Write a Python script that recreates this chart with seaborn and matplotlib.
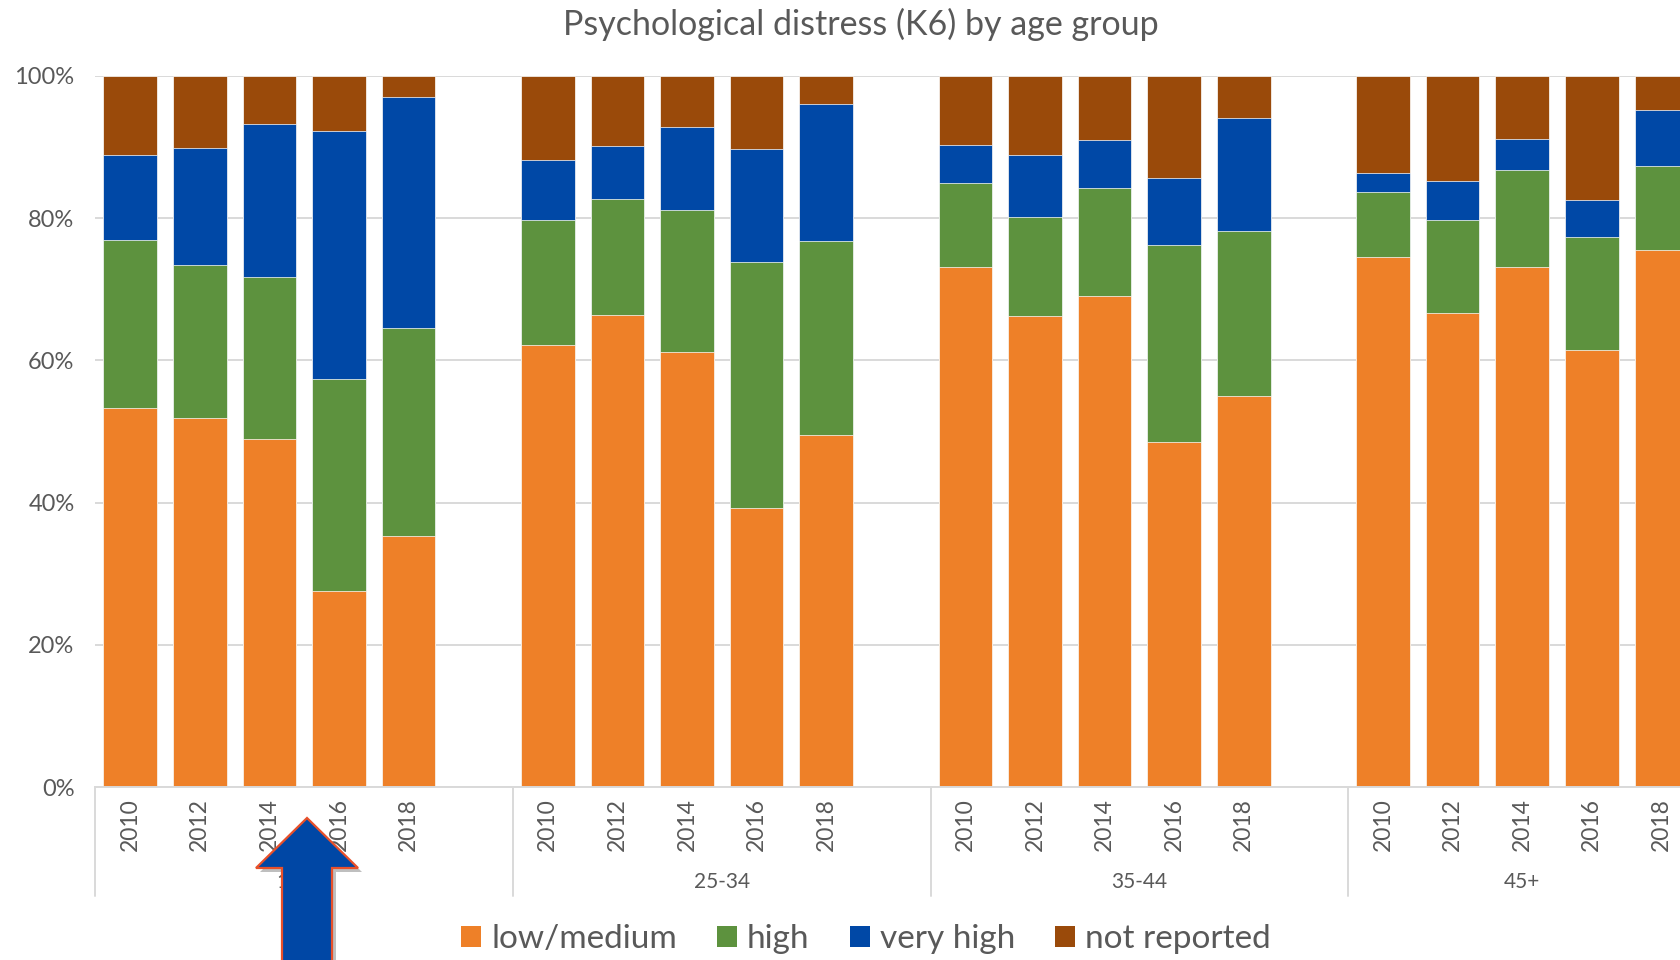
import numpy as np
import matplotlib
matplotlib.use("Agg")
import matplotlib.pyplot as plt
import matplotlib.transforms as mtransforms
from matplotlib.patches import Patch, Polygon
from matplotlib.lines import Line2D
import seaborn as sns

# ---- data (percent of respondents; age group major, survey year minor) ----
age_groups = ["18-24", "25-34", "35-44", "45+"]
years = ["2010", "2012", "2014", "2016", "2018"]
series_names = ["low/medium", "high", "very high", "not reported"]

low_medium = [53.3, 51.9, 48.9, 27.5, 35.3,
              62.2, 66.4, 61.2, 39.3, 49.5,
              73.1, 66.3, 69.0, 48.5, 55.0,
              74.6, 66.7, 73.2, 61.4, 75.5]
high = [23.7, 21.5, 22.9, 29.9, 29.2,
        17.6, 16.3, 20.0, 34.6, 27.3,
        11.9, 13.9, 15.3, 27.7, 23.2,
        9.1, 13.1, 13.6, 16.0, 11.9]
very_high = [11.9, 16.5, 21.4, 34.8, 32.5,
             8.4, 7.4, 11.6, 15.8, 19.3,
             5.3, 8.7, 6.7, 9.5, 15.9,
             2.6, 5.4, 4.4, 5.1, 7.8]
not_reported = [11.1, 10.1, 6.8, 7.8, 3.0,
                11.8, 9.9, 7.2, 10.3, 3.9,
                9.7, 11.1, 9.0, 14.3, 5.9,
                13.7, 14.8, 8.8, 17.5, 4.8]

colors = ["#EE8028", "#5D923E", "#0048A6", "#9A4A0A"]
text_color = "#595959"
grid_color = "#D9D9D9"

# ---- theme ----
sns.set_theme(style="white")
plt.rcParams["font.family"] = ["Lato", "DejaVu Sans"]

W, H = 1681, 960
fig = plt.figure(figsize=(W / 100, H / 100), dpi=100)

slot_px = 69.6
left_px, top_px, zero_px = 95.4, 76.0, 787.0
x_max = 23.0
ax = fig.add_axes([left_px / W, (H - zero_px) / H,
                   x_max * slot_px / W, (zero_px - top_px) / H])

# bar positions: five years per age group plus one empty slot between groups
group_span = len(years) + 1
positions = [g * group_span + i + 0.5
             for g in range(len(age_groups)) for i in range(len(years))]

# stacked bars drawn as cumulative layers, tallest first
stack = np.cumsum(np.array([low_medium, high, very_high, not_reported]), axis=0)
for k in reversed(range(len(series_names))):
    sns.barplot(x=positions, y=stack[k], native_scale=True, width=0.77,
                color=colors[k], saturation=1, errorbar=None,
                edgecolor="white", linewidth=0.5, ax=ax)

ax.set_xlim(0, x_max)
ax.set_ylim(0, 100)
ax.set_yticks(range(0, 101, 20))
ax.set_yticklabels([f"{v}%" for v in range(0, 101, 20)])
ax.yaxis.grid(True, color=grid_color, linewidth=1.4)
ax.set_axisbelow(True)
for side in ["left", "right", "top"]:
    ax.spines[side].set_visible(False)
ax.spines["bottom"].set_color(grid_color)
ax.spines["bottom"].set_linewidth(1.4)

ax.set_xticks(positions)
ax.set_xticklabels(years * len(age_groups), rotation=90)
ax.tick_params(axis="x", length=0, pad=8, labelsize=16.5, labelcolor=text_color)
ax.tick_params(axis="y", length=0, pad=15, labelsize=17, labelcolor=text_color)
ax.set_xlabel("")
ax.set_ylabel("")

# age-group labels and separators below the year labels
trans = mtransforms.blended_transform_factory(ax.transData, fig.transFigure)
for g, name in enumerate(age_groups):
    start = g * group_span
    end = min(start + group_span, x_max)
    ax.text((start + end) / 2, 1 - 882 / H, name, transform=trans,
            ha="center", va="center", fontsize=15, color=text_color)
    fig.add_artist(Line2D([start, start], [(H - zero_px) / H, 1 - 896 / H],
                          transform=trans, color=grid_color, linewidth=1.4))

# title
fig.text(861 / W, 1 - 24 / H, "Psychological distress (K6) by age group",
         ha="center", va="center", fontsize=24.5, color=text_color)

# legend
handles = [Patch(facecolor=c, edgecolor="none") for c in colors]
fig.legend(handles, series_names, loc="center",
           bbox_to_anchor=(866 / W, 1 - 939 / H), ncol=4, frameon=False,
           fontsize=24, handlelength=0.6, handleheight=0.6,
           handletextpad=0.3, columnspacing=1.2, labelcolor=text_color)

# pointer arrow under the 18-24 group
arrow_px = [(307, 818), (358, 868), (332, 868), (332, 975),
            (282, 975), (282, 868), (256, 868)]
def to_fig(pts, dx=0, dy=0):
    return [((x + dx) / W, 1 - (y + dy) / H) for x, y in pts]

fig.add_artist(Polygon(to_fig(arrow_px, 4, 4), closed=True,
                       facecolor="#000000", alpha=0.25, edgecolor="none",
                       transform=fig.transFigure))
fig.add_artist(Polygon(to_fig(arrow_px), closed=True, facecolor="#0047A5",
                       edgecolor="#E8502A", linewidth=1.6,
                       transform=fig.transFigure))

fig.savefig("out.png", dpi=100)
